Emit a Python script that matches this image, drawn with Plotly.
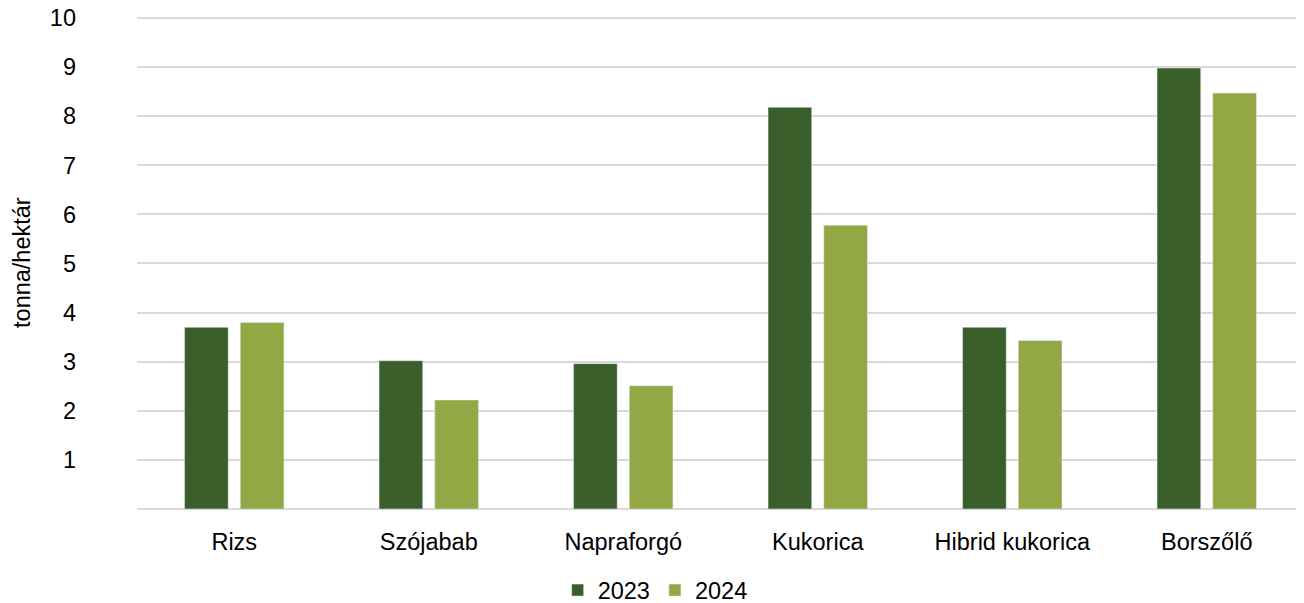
import plotly.graph_objects as go

categories = ["Rizs", "Szójabab", "Napraforgó", "Kukorica", "Hibrid kukorica", "Borszőlő"]
values_2023 = [3.7, 3.02, 2.96, 8.18, 3.7, 8.98]
values_2024 = [3.8, 2.22, 2.51, 5.78, 3.43, 8.47]
y_ticks = [1, 2, 3, 4, 5, 6, 7, 8, 9, 10]

DARK = "#3A5F2B"
LIGHT = "#93A845"
GRID = "#D9D9D9"
FONT = "Liberation Sans, Arial, sans-serif"
FS = 23.5

fig = go.Figure()
fig.add_trace(go.Bar(name="2023", x=categories, y=values_2023, marker_color=DARK))
fig.add_trace(go.Bar(name="2024", x=categories, y=values_2024, marker_color=LIGHT))

# the page body has an 8px margin, so the figure is 8px smaller than the window
fig.update_layout(
    width=1296,
    height=595,
    barmode="group",
    bargap=0.427,
    bargroupgap=0.216,
    plot_bgcolor="white",
    paper_bgcolor="white",
    font=dict(family=FONT, size=FS, color="#000000"),
    margin=dict(l=129, r=0, t=8, b=94, autoexpand=False),
    showlegend=True,
    legend=dict(
        orientation="h",
        x=0.444,
        xanchor="center",
        y=-0.165,
        yanchor="middle",
        font=dict(size=FS),
        itemwidth=30,
        traceorder="normal",
    ),
    annotations=[
        dict(
            text="tonna/hektár",
            xref="paper",
            yref="paper",
            x=-0.099,
            y=0.5,
            xanchor="center",
            yanchor="middle",
            textangle=-90,
            showarrow=False,
            font=dict(size=FS),
        )
    ],
)
fig.update_xaxes(
    showgrid=False,
    showline=False,
    ticks="",
    automargin=False,
    ticklabelstandoff=16,
    tickfont=dict(size=FS),
)
# small headroom above 10 so the top gridline is not clipped at the plot edge
fig.update_yaxes(
    range=[0, 10.04],
    tickvals=y_ticks,
    ticktext=[str(t) for t in y_ticks],
    showgrid=True,
    gridcolor=GRID,
    gridwidth=2,
    zeroline=True,
    zerolinecolor=GRID,
    zerolinewidth=2,
    ticks="",
    automargin=False,
    ticklabelstandoff=60,
    ticklabeloverflow="allow",
    tickfont=dict(size=FS),
)

fig.write_html("out.html")
